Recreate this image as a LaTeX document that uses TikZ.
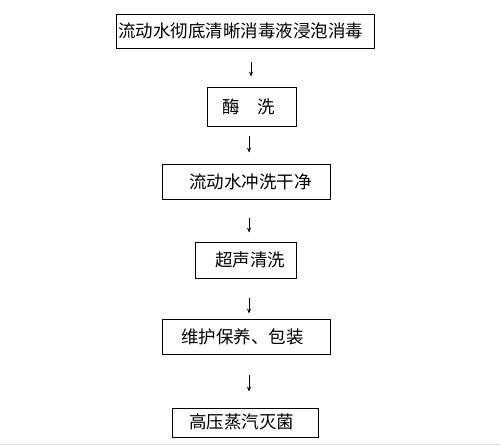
\documentclass[tikz,border=0pt]{standalone}
\usepackage{fontspec}
\setmainfont{Noto Sans CJK SC}
\usetikzlibrary{arrows.meta}
\tikzset{
  stepbox/.style={draw=black, line width=0.8pt, inner sep=0pt, rectangle,
    font=\fontsize{17.5}{20}\selectfont},
  arr/.style={draw=black, line width=0.8pt, -{Stealth[length=5pt,width=4pt]}},
}
\begin{document}
\begin{tikzpicture}[x=1pt,y=-1pt]
\useasboundingbox (0,0) rectangle (500,446);
\fill[white] (0,0) rectangle (500,446);
\node[stepbox, minimum width=258pt, minimum height=34pt] (b1) at (245,31) {流动水彻底清晰消毒液浸泡消毒\hspace*{9pt}};
\node[stepbox, minimum width=89pt, minimum height=39pt] (b2) at (251.5,106.5) {酶\quad 洗\hspace*{5pt}};
\node[stepbox, minimum width=168pt, minimum height=35pt] (b3) at (246,181.5) {\hspace*{9pt}流动水冲洗干净};
\node[stepbox, minimum width=101pt, minimum height=36pt] (b4) at (245.5,260) {\hspace*{9pt}超声清洗};
\node[stepbox, minimum width=168pt, minimum height=35pt] (b5) at (246,336.5) {\raisebox{-3pt}{维护保养、包装}\hspace*{7pt}};
\node[stepbox, minimum width=146pt, minimum height=29pt] (b6) at (245,422.5) {\raisebox{3.5pt}{高压蒸汽灭菌}\hspace*{7pt}};
\coordinate (ax1) at (251,0);
\coordinate (ax) at (249,0);
\draw[arr, shorten <=14pt, shorten >=10pt] (b1.south -| ax1) -- (b2.north -| ax1);
\draw[arr, shorten <=10pt, shorten >=11pt] (b2.south -| ax) -- (b3.north -| ax);
\draw[arr, shorten <=19pt, shorten >=9pt] (b3.south -| ax) -- (b4.north -| ax);
\draw[arr, shorten <=20pt, shorten >=5pt] (b4.south -| ax) -- (b5.north -| ax);
\draw[arr, shorten <=21pt, shorten >=16pt] (b5.south -| ax) -- (b6.north -| ax);
\draw[black!12, line width=1.5pt] (0,444.5) -- (500,444.5);
\end{tikzpicture}
\end{document}
